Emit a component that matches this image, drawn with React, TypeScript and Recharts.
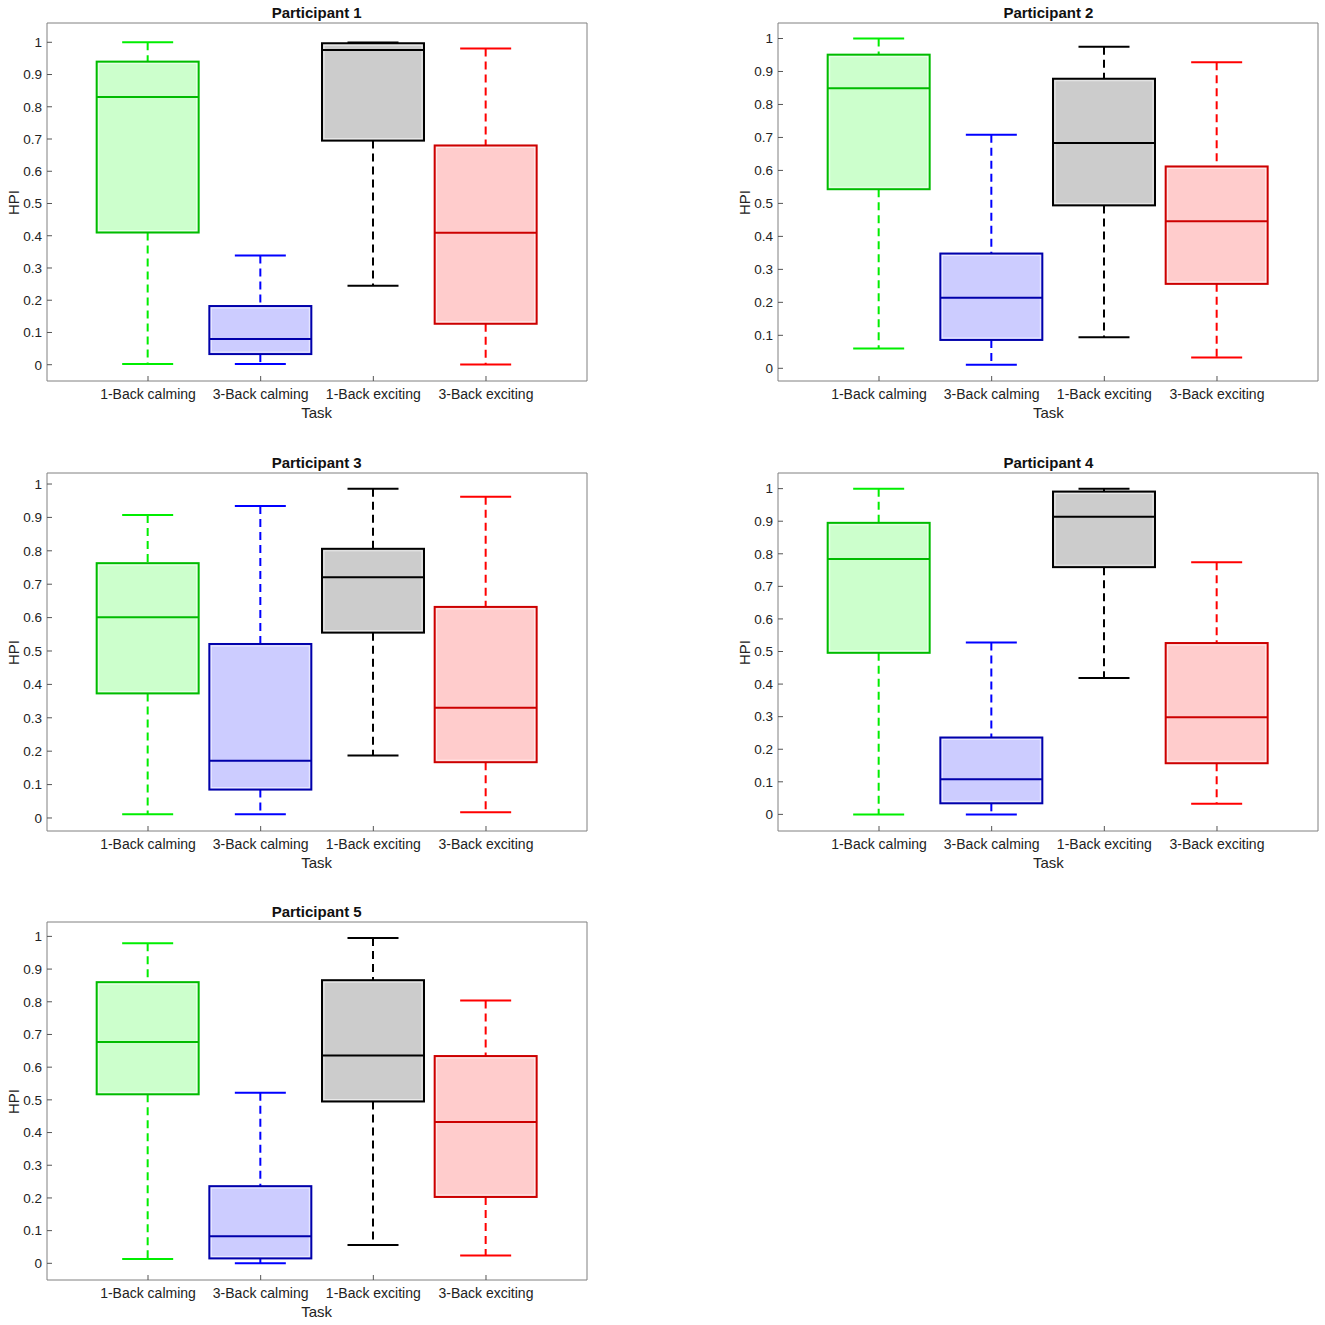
import React from "react";
import { ComposedChart, Bar, XAxis, YAxis } from "recharts";

const categories = ["1-Back calming", "3-Back calming", "1-Back exciting", "3-Back exciting"];

// per task: [lower whisker, Q1, median, Q3, upper whisker]
const participant1 = [
  [0.002, 0.41, 0.83, 0.94, 1.0],
  [0.002, 0.033, 0.08, 0.182, 0.339],
  [0.245, 0.695, 0.976, 0.997, 0.999],
  [0.001, 0.127, 0.409, 0.68, 0.981],
];
const participant2 = [
  [0.06, 0.543, 0.849, 0.951, 1.0],
  [0.011, 0.086, 0.214, 0.348, 0.708],
  [0.094, 0.494, 0.683, 0.878, 0.975],
  [0.033, 0.256, 0.446, 0.612, 0.928],
];
const participant3 = [
  [0.011, 0.373, 0.601, 0.763, 0.907],
  [0.011, 0.085, 0.171, 0.521, 0.934],
  [0.187, 0.555, 0.721, 0.806, 0.986],
  [0.017, 0.167, 0.33, 0.632, 0.962],
];
const participant4 = [
  [0.0, 0.496, 0.784, 0.895, 1.0],
  [0.0, 0.034, 0.108, 0.236, 0.528],
  [0.419, 0.759, 0.914, 0.991, 1.0],
  [0.033, 0.157, 0.298, 0.526, 0.774],
];
const participant5 = [
  [0.013, 0.517, 0.677, 0.86, 0.979],
  [0.0, 0.015, 0.083, 0.236, 0.522],
  [0.056, 0.495, 0.636, 0.866, 0.995],
  [0.024, 0.203, 0.432, 0.634, 0.804],
];

const yTicks = [0, 0.1, 0.2, 0.3, 0.4, 0.5, 0.6, 0.7, 0.8, 0.9, 1];
const yTickLabels = ["0", "0.1", "0.2", "0.3", "0.4", "0.5", "0.6", "0.7", "0.8", "0.9", "1"];

const fills = ["#ccffcc", "#ccccff", "#cccccc", "#ffcccc"];
const edges = ["#00bb00", "#0000aa", "#000000", "#cc0000"];
const whiskers = ["#00ee00", "#0000ff", "#000000", "#ff0000"];

const FONT = '"Liberation Sans", Arial, Helvetica, sans-serif';

function BoxShape(props: any) {
  const { x, y, width, height, payload } = props;
  const [lo, q1, med, q3, hi] = payload.stats;
  const i = payload.idx;
  const top = Math.min(y, y + height);
  const bot = Math.max(y, y + height);
  const px = (v: number) => bot - ((bot - top) * (v - lo)) / (hi - lo || 1);
  const cx = x + width / 2;
  const capHalf = width / 4;
  const yq1 = px(q1);
  const yq3 = px(q3);
  const ymed = px(med);
  return (
    <g>
      <line x1={cx} x2={cx} y1={top} y2={yq3} stroke={whiskers[i]} strokeWidth={2} strokeDasharray="8 5" />
      <line x1={cx} x2={cx} y1={yq1} y2={bot} stroke={whiskers[i]} strokeWidth={2} strokeDasharray="8 5" />
      <line x1={cx - capHalf} x2={cx + capHalf} y1={top} y2={top} stroke={whiskers[i]} strokeWidth={2} />
      <line x1={cx - capHalf} x2={cx + capHalf} y1={bot} y2={bot} stroke={whiskers[i]} strokeWidth={2} />
      <rect x={x} y={yq3} width={width} height={Math.max(yq1 - yq3, 0)} fill={fills[i]} stroke={edges[i]} strokeWidth={2} />
      {yq1 - yq3 > 4 && (
        <rect x={x + 2} y={yq3 + 2} width={width - 4} height={yq1 - yq3 - 4} fill="none" stroke="#ffffff" strokeOpacity={0.6} strokeWidth={1} />
      )}
      <line x1={x} x2={x + width} y1={ymed} y2={ymed} stroke={edges[i]} strokeWidth={2} />
    </g>
  );
}

type PanelProps = {
  title: string;
  stats: number[][];
  domain: [number, number];
  left: number;
  top: number;
};

function Panel({ title, stats, domain, left, top }: PanelProps) {
  const data = categories.map((task, idx) => ({ task, idx, stats: stats[idx] }));
  const W = 592;
  const H = 430;
  const frame = { stroke: "#808080", strokeWidth: 1 };
  const tickLine = { stroke: "#555555", strokeWidth: 1 };
  return (
    <div style={{ position: "absolute", left: left - 46, top: top - 22, width: W, height: H, fontFamily: FONT }}>
      <ComposedChart width={W} height={H} data={data} margin={{ top: 20, right: 4, bottom: 20, left: 6 }} style={{ fontFamily: FONT }}>
        <XAxis
          xAxisId="b"
          dataKey="task"
          type="category"
          interval={0}
          padding={{ left: 44.67, right: 44.67 }}
          height={30}
          tickSize={-5}
          tickMargin={13}
          axisLine={frame}
          tickLine={tickLine}
          tick={{ fill: "#222222", fontSize: 14 }}
        />
        <XAxis
          xAxisId="t"
          orientation="top"
          dataKey="task"
          type="category"
          interval={0}
          padding={{ left: 44.67, right: 44.67 }}
          height={2}
          tickSize={-5}
          axisLine={frame}
          tickLine={tickLine}
          tick={false}
        />
        <YAxis
          yAxisId="l"
          type="number"
          domain={domain}
          allowDataOverflow
          ticks={yTicks}
          interval={0}
          tickFormatter={(v: number) => yTickLabels[yTicks.indexOf(v)] ?? String(v)}
          width={40}
          tickSize={-5}
          tickMargin={10}
          axisLine={frame}
          tickLine={tickLine}
          tick={{ fill: "#222222", fontSize: 13.5 }}
        />
        <YAxis
          yAxisId="r"
          orientation="right"
          type="number"
          domain={domain}
          allowDataOverflow
          ticks={yTicks}
          interval={0}
          width={2}
          tickSize={-5}
          axisLine={frame}
          tickLine={tickLine}
          tick={false}
        />
        <Bar
          xAxisId="b"
          yAxisId="l"
          dataKey={(d: any) => [d.stats[0], d.stats[4]]}
          barSize={102}
          shape={<BoxShape />}
          isAnimationActive={false}
        />
      </ComposedChart>
      <div style={{ position: "absolute", left: 46, top: 3, width: 540, textAlign: "center", fontWeight: "bold", fontSize: 15, lineHeight: "17px", color: "#111" }}>
        {title}
      </div>
      <div style={{ position: "absolute", left: 46, top: 403, width: 540, textAlign: "center", fontSize: 15, lineHeight: "17px", color: "#222" }}>
        Task
      </div>
      <div
        style={{
          position: "absolute",
          left: 12 - 30,
          top: 201 - 8,
          width: 60,
          textAlign: "center",
          fontSize: 15,
          lineHeight: "17px",
          color: "#222",
          transform: "rotate(-90deg)",
        }}
      >
        HPI
      </div>
    </div>
  );
}

export default function App() {
  return (
    <div style={{ position: "absolute", left: 0, top: 0, width: 1325, height: 1325, background: "#ffffff" }}>
      <Panel title="Participant 1" stats={participant1} domain={[-0.0505, 1.0598]} left={46.7} top={22.7} />
      <Panel title="Participant 2" stats={participant2} domain={[-0.0385, 1.047]} left={778.4} top={22.7} />
      <Panel title="Participant 3" stats={participant3} domain={[-0.039, 1.033]} left={46.7} top={472.7} />
      <Panel title="Participant 4" stats={participant4} domain={[-0.051, 1.048]} left={778.4} top={472.7} />
      <Panel title="Participant 5" stats={participant5} domain={[-0.051, 1.044]} left={46.7} top={922} />
    </div>
  );
}
